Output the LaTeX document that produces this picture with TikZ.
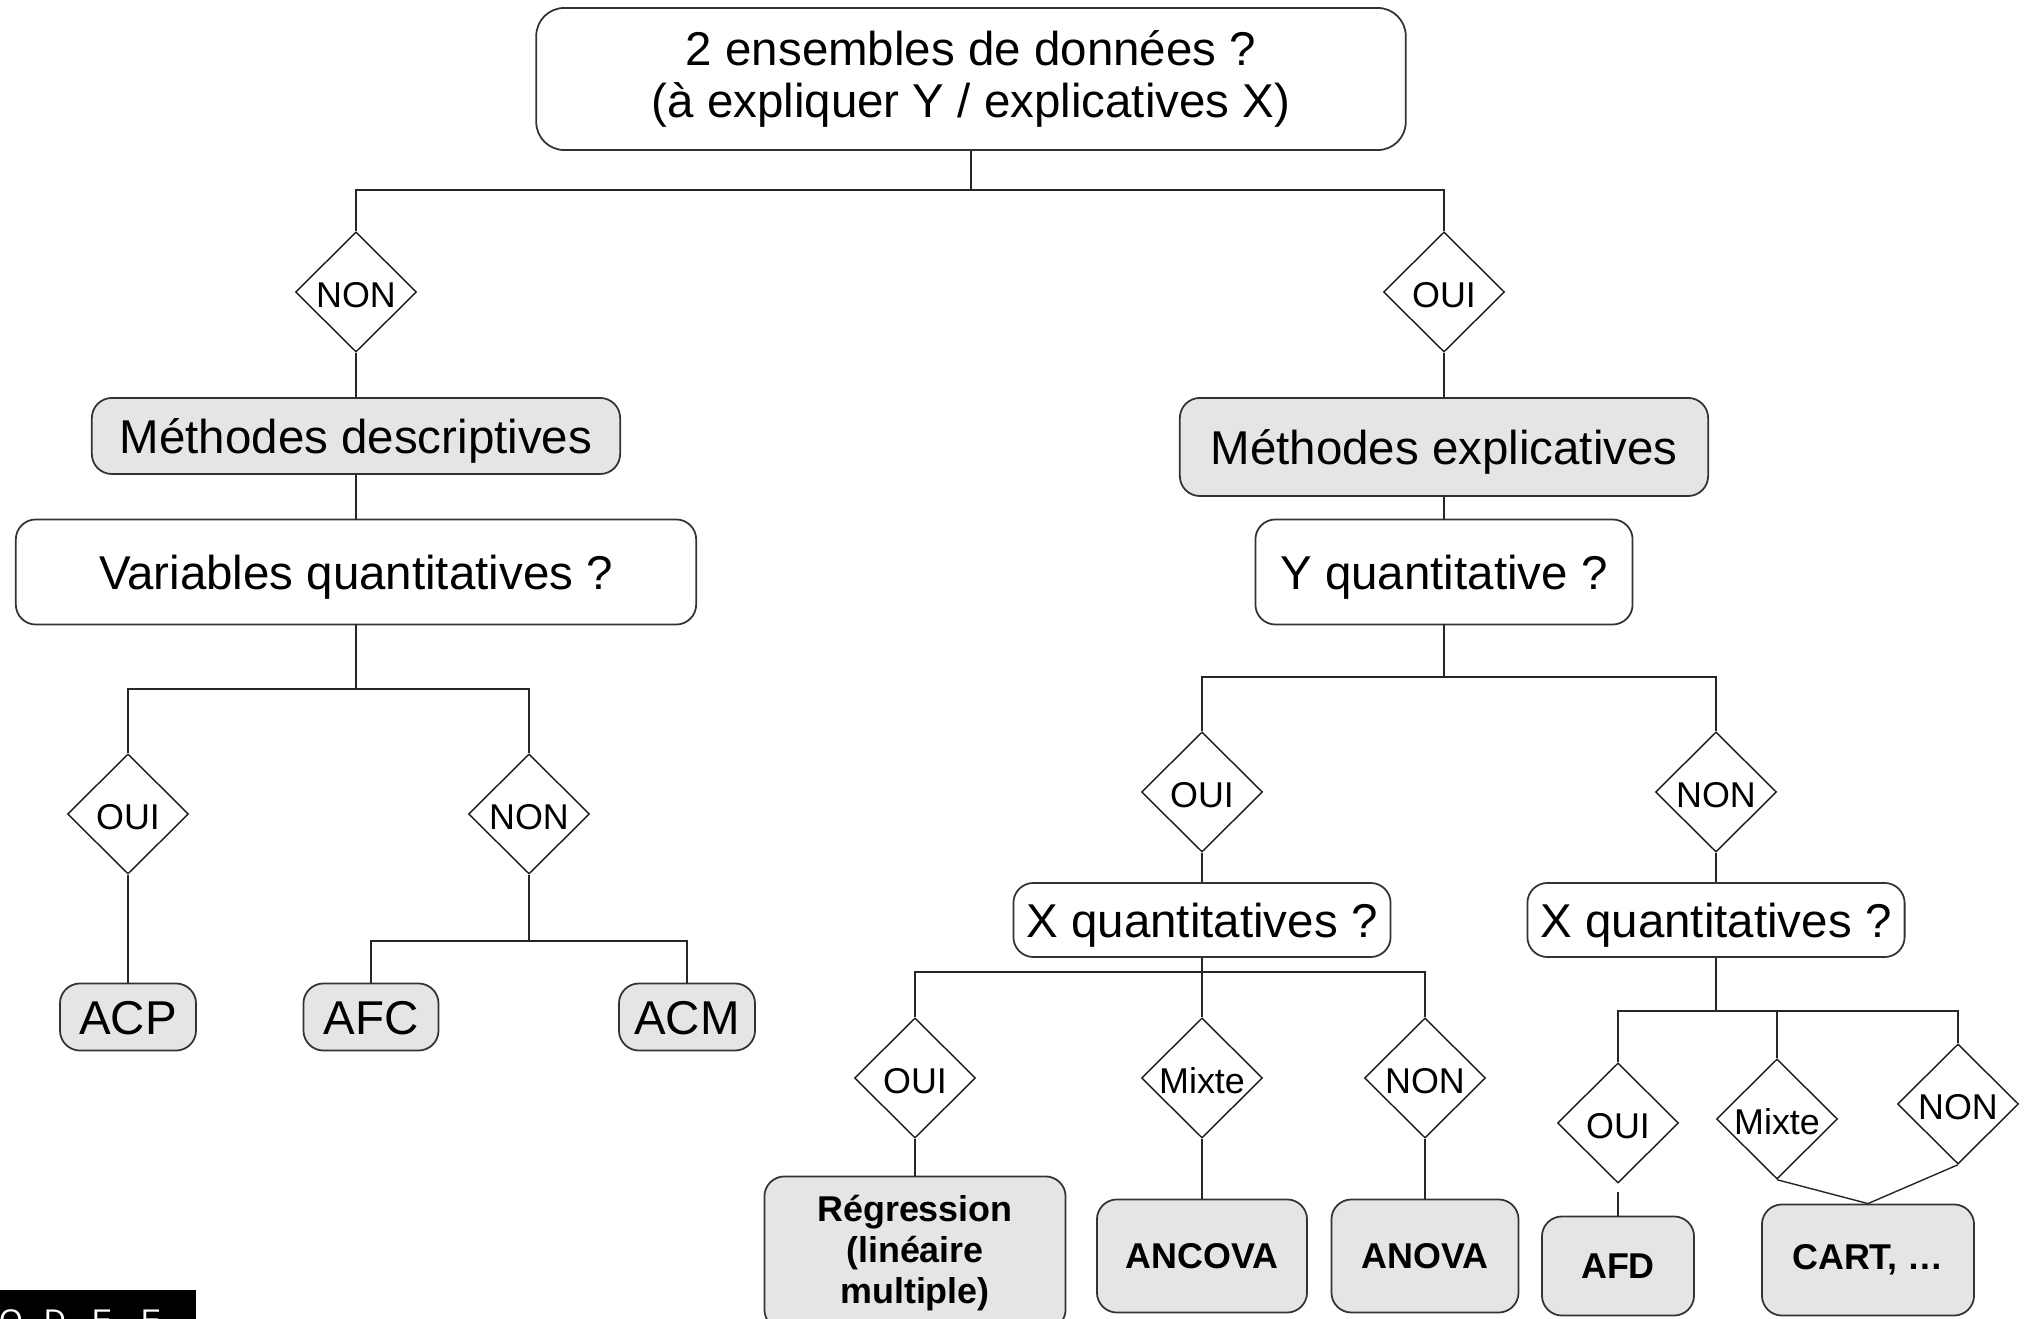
\documentclass[tikz,border=0pt]{standalone}
\usepackage{fontspec}
\setmainfont{Liberation Sans}
\usetikzlibrary{shapes.geometric}

\begin{document}
\begin{tikzpicture}[x=0.01cm, y=-0.01cm,
  every node/.style={inner sep=0pt, align=center},
  qbox/.style={draw=black!80, line width=0.5pt, rounded corners=0.2cm, fill=white, font=\fontsize{13.5}{15}\selectfont},
  qline/.style={qbox, text height=0.445cm, text depth=0.095cm},
  mbox/.style={qline, fill=black!10},
  rbox/.style={qbox, fill=black!10, font=\fontsize{10.2}{11.7}\selectfont\bfseries},
  choix/.style={diamond, aspect=1, draw=black!90, line width=0.4pt, minimum width=1.21cm, minimum height=1.2cm, text height=0.31cm, text depth=0pt, font=\fontsize{10.2}{12}\selectfont},
  lien/.style={draw=black!85, line width=0.4pt}]
  \useasboundingbox (0,0) rectangle (2035,1319);

  % question de depart
  \node (top) [qbox, minimum width=8.69cm, minimum height=1.42cm, rounded corners=0.28cm] at (971, 79) {2 ensembles de données ?\\(à expliquer Y / explicatives X)};
  \node (d0) [choix] at (356, 292) {NON};
  \node (d1) [choix] at (1444, 292) {OUI};

  % branche descriptive
  \node (mdesc) [mbox, minimum width=5.28cm, minimum height=0.76cm] at (356, 436) {Méthodes descriptives};
  \node (varq) [qline, minimum width=6.80cm, minimum height=1.05cm] at (356, 572) {Variables quantitatives ?};
  \node (d2) [choix] at (128, 814) {OUI};
  \node (d3) [choix] at (529, 814) {NON};
  \node (acp) [mbox, minimum width=1.36cm, minimum height=0.67cm] at (128, 1017) {ACP};
  \node (afc) [mbox, minimum width=1.35cm, minimum height=0.67cm] at (371, 1017) {AFC};
  \node (acm) [mbox, minimum width=1.36cm, minimum height=0.67cm] at (687, 1017) {ACM};

  % branche explicative
  \node (mexpl) [mbox, minimum width=5.28cm, minimum height=0.98cm] at (1444, 447) {Méthodes explicatives};
  \node (yq) [qline, minimum width=3.77cm, minimum height=1.05cm] at (1444, 572) {Y quantitative ?};
  \node (d4) [choix] at (1202, 792) {OUI};
  \node (d5) [choix] at (1716, 792) {NON};
  \node (xq1) [qline, minimum width=3.77cm, minimum height=0.74cm] at (1202, 920) {X quantitatives ?};
  \node (xq2) [qline, minimum width=3.77cm, minimum height=0.74cm] at (1716, 920) {X quantitatives ?};

  % Y quantitative
  \node (d6) [choix] at (915, 1078) {OUI};
  \node (d7) [choix] at (1202, 1078) {Mixte};
  \node (d8) [choix] at (1425, 1078) {NON};
  \node (reg) [rbox, minimum width=3.01cm, minimum height=1.53cm] at (915, 1253) {Régression\\(linéaire\\multiple)};
  \node (ancova) [rbox, minimum width=2.10cm, minimum height=1.13cm] at (1202, 1256) {ANCOVA};
  \node (anova) [rbox, minimum width=1.87cm, minimum height=1.13cm] at (1425, 1256) {ANOVA};

  % Y qualitative
  \node (d9) [choix] at (1618, 1123) {OUI};
  \node (d10) [choix] at (1777, 1119) {Mixte};
  \node (d11) [choix] at (1958, 1104) {NON};
  \node (afd) [rbox, minimum width=1.52cm, minimum height=0.99cm] at (1618, 1266) {AFD};
  \node (cart) [rbox, minimum width=2.12cm, minimum height=1.11cm] at (1868, 1260) {CART, …};

  % bandeau en bas a gauche
  \fill[black] (0,1290) rectangle (196,1330);
  \foreach \c/\x in {O/11, D/55, E/102, E/151}
    \node (l\x) [text=white, anchor=north, font=\fontsize{8.5}{10}\selectfont] at (\x, 1309) {\c};

  % liaisons
  \coordinate (j0) at (971, 190);
  \draw[lien] (top.south) -- (j0);
  \draw[lien] (d0.north) |- (j0) -| (d1.north);
  \draw[lien] (d0) -- (mdesc);
  \draw[lien] (mdesc) -- (varq);
  \draw[lien] (d1) -- (mexpl);
  \draw[lien] (mexpl) -- (yq);

  \coordinate (j1) at (356, 689);
  \draw[lien] (varq.south) -- (j1);
  \draw[lien] (d2.north) |- (j1) -| (d3.north);
  \draw[lien] (d2) -- (acp);
  \coordinate (j2) at (529, 941);
  \draw[lien] (d3.south) -- (j2);
  \draw[lien] (afc.north) |- (j2) -| (acm.north);

  \coordinate (j3) at (1444, 677);
  \draw[lien] (yq.south) -- (j3);
  \draw[lien] (d4.north) |- (j3) -| (d5.north);
  \draw[lien] (d4) -- (xq1);
  \draw[lien] (d5) -- (xq2);

  \coordinate (j4) at (1202, 972);
  \draw[lien] (xq1.south) -- (j4);
  \draw[lien] (d6.north) |- (j4) -| (d8.north);
  \draw[lien] (j4) -- (d7.north);
  \draw[lien] (d6) -- (reg);
  \draw[lien] (d7) -- (ancova);
  \draw[lien] (d8) -- (anova);

  \coordinate (j5) at (1716, 1011);
  \draw[lien] (xq2.south) -- (j5);
  \draw[lien] (d9.north) |- (j5) -| (d11.north);
  \draw[lien] (d10.north) -- (d10.north |- j5);
  \draw[lien, shorten <=0.08cm] (d9.south) -- (afd.north);
  \draw[lien] (d10.south) -- (cart.north) -- (d11.south);
\end{tikzpicture}
\end{document}
